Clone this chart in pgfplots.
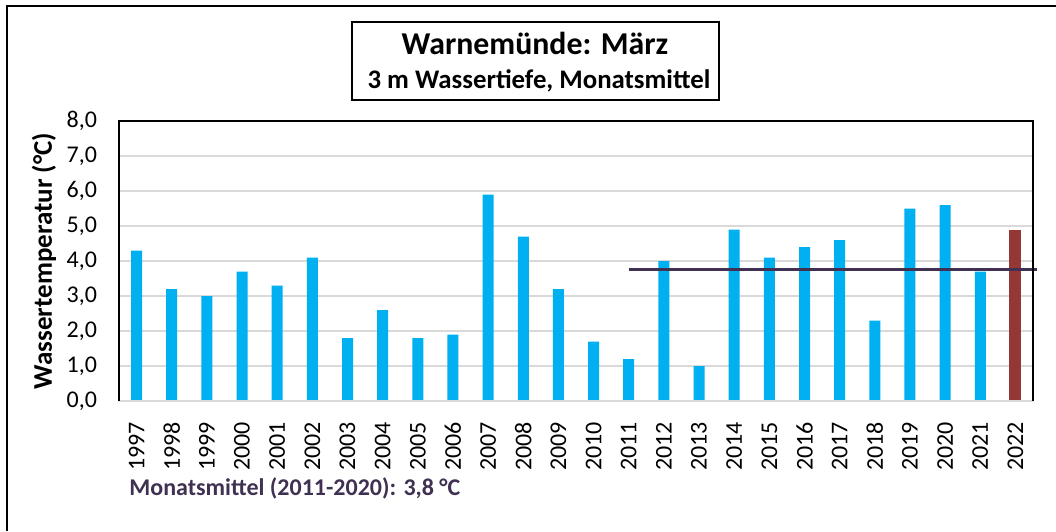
\documentclass[border=0pt]{standalone}
\usepackage{fontspec}
\setmainfont{Carlito}
\usepackage{pgfplots}
\pgfplotsset{compat=1.18}
\definecolor{barblue}{HTML}{00B0F0}
\definecolor{barred}{HTML}{953735}
\definecolor{meanline}{HTML}{403152}
\definecolor{gridgray}{HTML}{D9D9D9}
\begin{document}
\begin{tikzpicture}
\begin{scope}[x=0.5pt,y=0.5pt]
\useasboundingbox (0,0) rectangle (1056,531);
% outer frame (cut at right and bottom)
\draw[line width=1pt] (7,0) -- (7,525) -- (1056,525);
% title box
\draw[line width=1pt] (352,431) rectangle (719,509);
\node[font=\bfseries\fontsize{15.9}{18}\selectfont, anchor=base, inner sep=0] at (535,476) {Warnemünde: März};
\node[font=\bfseries\fontsize{13.4}{16}\selectfont, anchor=base, inner sep=0] at (539,442) {3 m Wassertiefe, Monatsmittel};
\end{scope}
\begin{axis}[
  at={(59.5pt,65pt)}, anchor=south west,
  scale only axis, width=457pt, height=140pt,
  ybar, bar width=5.5pt,
  xmin=-0.5, xmax=25.5, ymin=0, ymax=8,
  clip=false,
  axis line style={draw=none},
  major tick length=0pt,
  ymajorgrids, major grid style={gridgray, line width=1pt},
  ytick={0,1,2,3,4,5,6,7,8},
  xtick={0,...,25},
  xticklabels={1997,1998,1999,2000,2001,2002,2003,2004,2005,2006,2007,2008,2009,
    2010,2011,2012,2013,2014,2015,2016,2017,2018,2019,2020,2021,2022},
  xticklabel style={rotate=90, anchor=east, font=\fontsize{12}{14}\selectfont, xshift=-7pt},
  yticklabel style={font=\fontsize{12}{14}\selectfont, xshift=-7.5pt},
  /pgf/number format/.cd, fixed, fixed zerofill, precision=1, use comma, assume math mode=true,
]
\addplot[fill=barblue, draw=none, bar shift=0pt] coordinates {
  (0,4.3) (1,3.2) (2,3.0) (3,3.7) (4,3.3) (5,4.1) (6,1.8) (7,2.6) (8,1.8) (9,1.9)
  (10,5.9) (11,4.7) (12,3.2) (13,1.7) (14,1.2) (15,4.0) (16,1.0) (17,4.9) (18,4.1)
  (19,4.4) (20,4.6) (21,2.3) (22,5.5) (23,5.6) (24,3.7)};
\addplot[fill=barred, draw=none, bar shift=0pt, bar width=6pt] coordinates {(25,4.9)};
\addplot[sharp plot, meanline, line width=1.5pt, forget plot] coordinates {(14,3.75) (25.6,3.75)};
\end{axis}
\begin{scope}[x=0.5pt,y=0.5pt]
% plot area frame
\draw[gridgray, line width=1pt] (119,130) -- (1033,130);
\draw[line width=1pt] (119,130) -- (119,410) -- (1033,410) -- (1033,130);
\node[font=\bfseries\fontsize{13.5}{16}\selectfont, rotate=90, inner sep=0] at (44,270) {Wassertemperatur (°C)};
\node[font=\bfseries\fontsize{12}{14}\selectfont, text=meanline, anchor=base west, inner sep=0] at (129,36) {Monatsmittel (2011-2020): 3,8 °C};
\end{scope}
\end{tikzpicture}
\end{document}
